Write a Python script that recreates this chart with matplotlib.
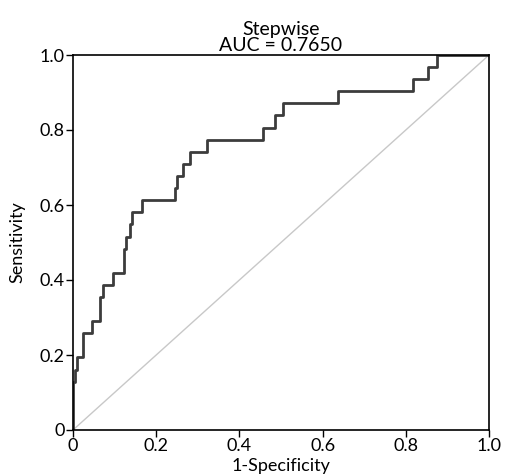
import matplotlib
matplotlib.use("Agg")
import matplotlib.pyplot as plt

# ROC step vertices (1-Specificity, Sensitivity)
fpr = [0.000, 0.000, 0.005, 0.009, 0.025, 0.046, 0.066, 0.071, 0.097, 0.123,
       0.128, 0.137, 0.143, 0.167, 0.245, 0.249, 0.265, 0.281, 0.323, 0.456,
       0.486, 0.506, 0.638, 0.818, 0.854, 0.876, 1.000]
tpr = [0.000, 0.129, 0.161, 0.194, 0.258, 0.290, 0.355, 0.387, 0.419, 0.484,
       0.516, 0.548, 0.581, 0.613, 0.645, 0.677, 0.710, 0.742, 0.774, 0.806,
       0.839, 0.871, 0.903, 0.935, 0.968, 1.000, 1.000]
ref_x = [0.0, 1.0]
ref_y = [0.0, 1.0]
ticks = [0.0, 0.2, 0.4, 0.6, 0.8, 1.0]
tick_labels = ["0", "0.2", "0.4", "0.6", "0.8", "1.0"]
title = "Stepwise\nAUC = 0.7650"

plt.rcParams['font.family'] = ['Lato', 'DejaVu Sans']

fig = plt.figure(figsize=(5.05, 4.75), dpi=100)
ax = fig.add_axes([73/505, 45/475, 416/505, 375/475])

ax.plot(ref_x, ref_y, color='#c8c8c8', lw=1.0, zorder=1)
ax.step(fpr, tpr, where='post', color='#3c3c3c', lw=2.0, zorder=2)

ax.set_xlim(0, 1)
ax.set_ylim(0, 1)
ax.set_xticks(ticks)
ax.set_xticklabels(tick_labels)
ax.set_yticks(ticks)
ax.set_yticklabels(tick_labels)
ax.tick_params(direction='out', length=5, width=1, labelsize=13, pad=1, colors='black')
for s in ax.spines.values():
    s.set_linewidth(1.2)
    s.set_color('black')

ax.set_xlabel("1-Specificity", fontsize=13, labelpad=3)
ax.set_ylabel("Sensitivity", fontsize=13, labelpad=10)
ax.set_title(title, fontsize=14, pad=3, linespacing=0.95)

fig.savefig("out.png", dpi=100)
